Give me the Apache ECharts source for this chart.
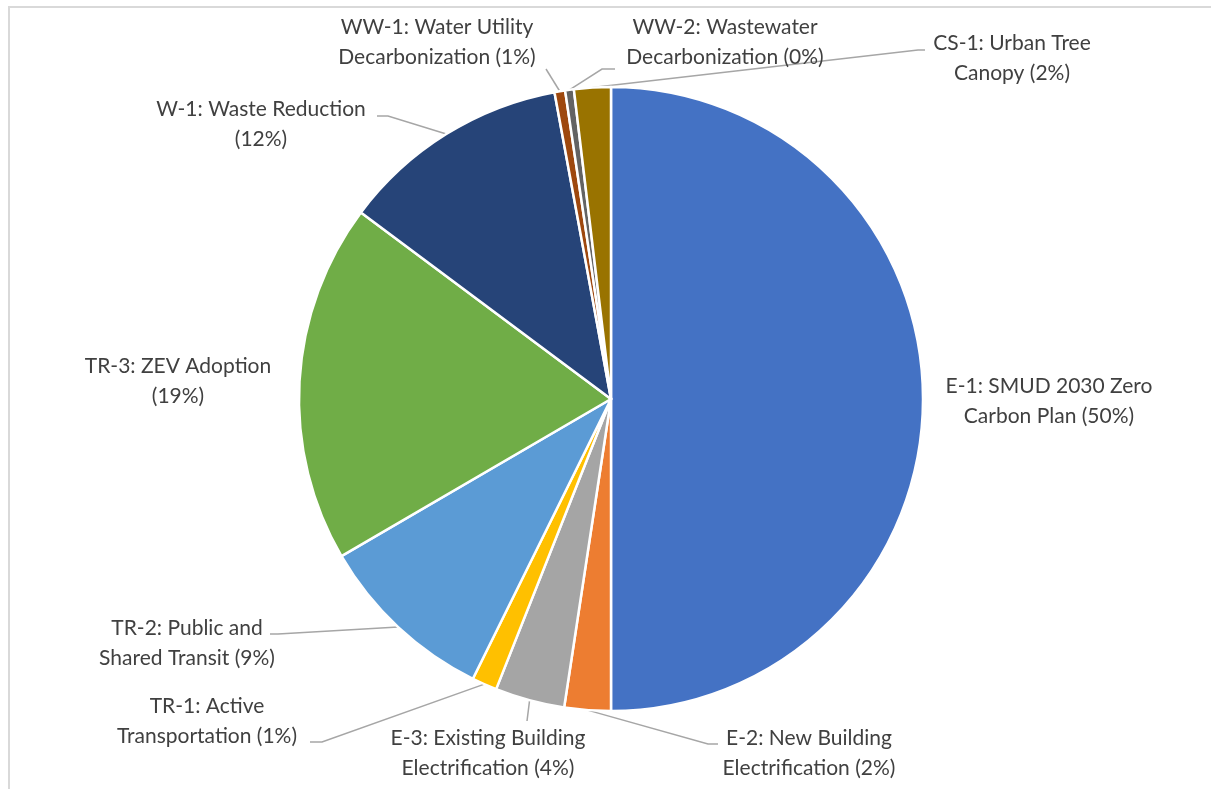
<!DOCTYPE html>
<html>
<head>
<meta charset="utf-8">
<script src="https://cdn.jsdelivr.net/npm/echarts@6/dist/echarts.min.js"></script>
<style>
  html, body { margin: 0; padding: 0; background: #ffffff; }
  #chart { width: 1211px; height: 789px; }
</style>
</head>
<body>
<div id="chart"></div>
<script>
// Share of emission reductions by measure ("\n" marks where each label wraps)
const categories = [
  'E-1: SMUD 2030 Zero\nCarbon Plan',
  'E-2: New Building\nElectrification',
  'E-3: Existing Building\nElectrification',
  'TR-1: Active\nTransportation',
  'TR-2: Public and\nShared Transit',
  'TR-3: ZEV Adoption\n',
  'W-1: Waste Reduction\n',
  'WW-1: Water Utility\nDecarbonization',
  'WW-2: Wastewater\nDecarbonization',
  'CS-1: Urban Tree\nCanopy'
];
const shares = [50.0, 2.4, 3.6, 1.3, 9.3, 18.6, 11.9, 0.55, 0.45, 1.9];

const colors = ['#4472C4', '#ED7D31', '#A5A5A5', '#FFC000', '#5B9BD5',
                '#70AD47', '#264478', '#9E480E', '#636363', '#997300'];

// Label placement: block centre, leader-line end relative to that centre,
// and the length of the short horizontal run next to the label.
const labelPlacement = [
  { c: [1049, 401], end: null },
  { c: [809, 753], end: [-91, -9], run: -10 },
  { c: [488, 753], end: [39, -32], run: 0 },
  { c: [207, 721], end: [103, 21], run: 12 },
  { c: [187, 643], end: [83, -9], run: 8 },
  { c: [178, 381], end: null },
  { c: [261, 124], end: [116, -8], run: 11 },
  { c: [437, 42], end: [109, 27], run: 0 },
  { c: [725, 42], end: [-110, 27], run: -13 },
  { c: [1012, 58], end: [-87, -8], run: -7 }
];

const chart = echarts.init(document.getElementById('chart'), null, { renderer: 'canvas' });

const data = categories.map((name, i) => ({
  name: name,
  value: shares[i],
  itemStyle: { color: colors[i] },
  labelLine: { show: labelPlacement[i].end !== null }
}));

chart.setOption({
  animation: false,
  backgroundColor: '#ffffff',
  graphic: [{
    type: 'rect',
    silent: true,
    shape: { x: 9, y: 7, width: 1400, height: 1000 },
    style: { fill: 'none', stroke: '#D9D9D9', lineWidth: 2 }
  }],
  series: [{
    type: 'pie',
    center: [611, 399],
    radius: [0, 312],
    startAngle: 90,
    clockwise: true,
    avoidLabelOverlap: false,
    data: data,
    itemStyle: { borderColor: '#ffffff', borderWidth: 2.5 },
    label: {
      show: true,
      position: 'outside',
      color: '#404040',
      fontFamily: 'Lato',
      fontSize: 21,
      lineHeight: 30,
      align: 'center',
      formatter: function (p) {
        const sep = p.name.endsWith('\n') ? '' : ' ';
        return p.name + sep + '(' + Math.round(p.percent) + '%)';
      }
    },
    labelLine: {
      show: true,
      length: 10,
      length2: 10,
      smooth: false,
      lineStyle: { color: '#A6A6A6', width: 1.5 }
    },
    labelLayout: function (params) {
      const pl = labelPlacement[params.dataIndex];
      const out = { x: pl.c[0], y: pl.c[1], align: 'center', verticalAlign: 'middle' };
      if (pl.end && params.labelLinePoints) {
        const edge = params.labelLinePoints[0];
        const end = [pl.c[0] + pl.end[0], pl.c[1] + pl.end[1]];
        const bend = [end[0] + pl.run, end[1]];
        out.labelLinePoints = [edge, bend, end];
      }
      return out;
    }
  }]
});
</script>
</body>
</html>
